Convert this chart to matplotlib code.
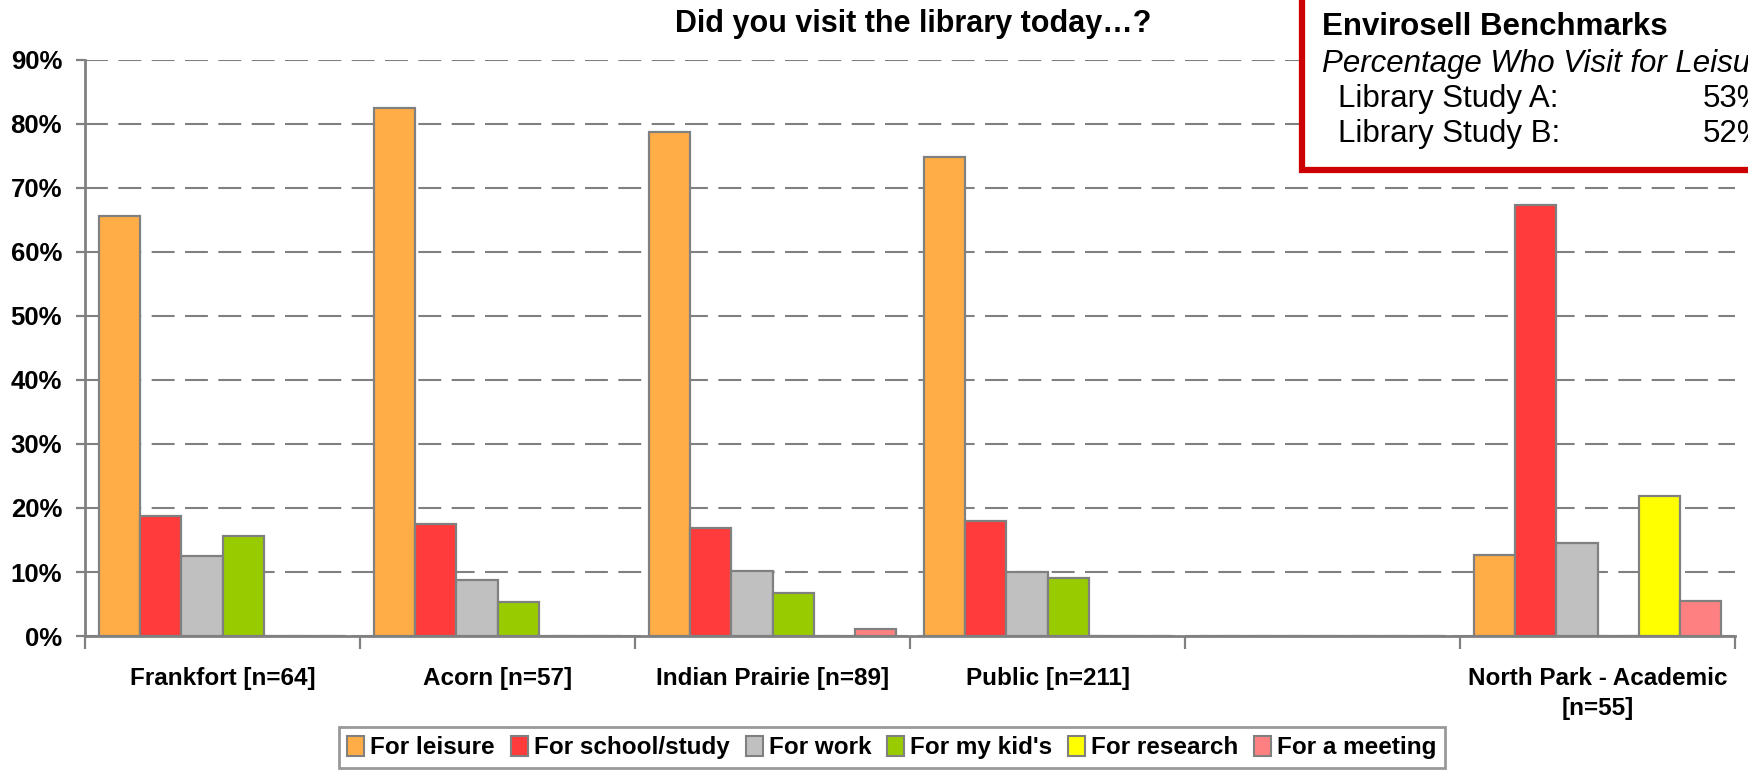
import numpy as np
import matplotlib
matplotlib.use('Agg')
import matplotlib.pyplot as plt
from matplotlib.patches import Rectangle
from matplotlib.ticker import FixedLocator, PercentFormatter

sites = ['Frankfort [n=64]', 'Acorn [n=57]', 'Indian Prairie [n=89]', 'Public [n=211]', '',
         'North Park - Academic\n[n=55]']
reasons = ['For leisure', 'For school/study', 'For work', "For my kid's", 'For research', 'For a meeting']
leisure = [0.656, 0.825, 0.787, 0.749, 0, 0.127]
school = [0.188, 0.175, 0.169, 0.180, 0, 0.673]
work = [0.125, 0.088, 0.101, 0.100, 0, 0.145]
kids = [0.156, 0.053, 0.067, 0.090, 0, 0]
research = [0, 0, 0, 0, 0, 0.218]
meeting = [0, 0, 0.011, 0, 0, 0.055]
colors = ['#FFAD47', '#FF3B3B', '#C0C0C0', '#99CC00', '#FFFF00', '#FF8080']

plt.rcParams['font.family'] = ['Liberation Sans', 'DejaVu Sans']

fig = plt.figure(figsize=(17.49, 7.78), dpi=100)
ax = fig.add_axes([0.0486, 0.1825, 0.9434, 0.7405])

x = np.arange(len(sites))
w = 0.15
series = [leisure, school, work, kids, research, meeting]
for i, vals in enumerate(series):
    ax.bar(x + (i - 2.5) * w, vals, w, color=colors[i], edgecolor='#808080', lw=1.6,
           label=reasons[i], zorder=3)

ax.set_xlim(-0.5, 5.5)
ax.set_ylim(0, 0.9)
ax.yaxis.set_major_locator(FixedLocator(np.arange(0, 0.91, 0.1)))
ax.yaxis.set_major_formatter(PercentFormatter(1.0, decimals=0))
ax.grid(axis='y', color='#808080', ls=(0, (11, 5)), lw=1.5, zorder=0)

ax.set_xticks(np.arange(-0.5, 5.6, 1))
ax.set_xticklabels([])
ax.set_xticks(x, minor=True)
ax.set_xticklabels(sites, minor=True, fontsize=17.5, fontweight='bold', linespacing=1.4)
ax.tick_params(axis='x', which='major', length=9, width=1.6, color='#808080', direction='out')
ax.tick_params(axis='x', which='minor', length=0, pad=22)
ax.tick_params(axis='y', length=6.5, width=1.6, color='#808080', pad=10)
for lab in ax.get_yticklabels():
    lab.set_fontsize(18.5)
    lab.set_fontweight('bold')

for s in ['top', 'right']:
    ax.spines[s].set_visible(False)
for s in ['left', 'bottom']:
    ax.spines[s].set_color('#808080')
    ax.spines[s].set_linewidth(2)
    ax.spines[s].set_zorder(4)

fig.text(0.522, 0.969, 'Did you visit the library today\u2026?', ha='center', va='center',
         fontsize=22, fontweight='bold')

leg = fig.legend(loc='center', bbox_to_anchor=(0.510, 0.039), ncol=6, frameon=True,
                 fancybox=False, edgecolor='#808080', handlelength=0.7, handleheight=0.9,
                 handletextpad=0.25, columnspacing=0.65, borderpad=0.35,
                 prop={'weight': 'bold', 'size': 17.5})
leg.get_frame().set_linewidth(2)
for h in leg.legend_handles:
    h.set_edgecolor('#808080')
    h.set_linewidth(1.5)

# benchmark box, partly cut off at the top/right edge as in the original slide
box = Rectangle((1302 / 1749, 1 - 170 / 778), 0.3, 0.3, transform=fig.transFigure,
                facecolor='white', edgecolor='#CC0000', lw=4.5, zorder=10, clip_on=False)
fig.patches.append(box)
tx = 1322 / 1749
fs = 22.5
fig.text(tx, 1 - 27 / 778, 'Envirosell Benchmarks', fontsize=fs, fontweight='bold',
         va='center', zorder=11)
fig.text(tx, 1 - 64 / 778, 'Percentage Who Visit for Leisure', fontsize=fs, style='italic',
         va='center', zorder=11)
fig.text(1338 / 1749, 1 - 99 / 778, 'Library Study A:', fontsize=fs, va='center', zorder=11)
fig.text(1338 / 1749, 1 - 134 / 778, 'Library Study B:', fontsize=fs, va='center', zorder=11)
fig.text(1703 / 1749, 1 - 99 / 778, '53%', fontsize=fs, va='center', zorder=11)
fig.text(1703 / 1749, 1 - 134 / 778, '52%', fontsize=fs, va='center', zorder=11)

plt.savefig('out.png', dpi=100)
